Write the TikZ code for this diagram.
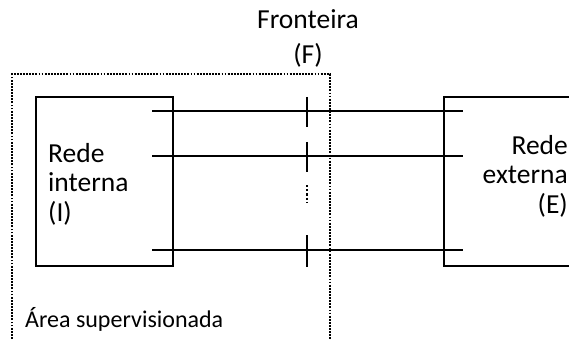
\documentclass[tikz,border=0pt]{standalone}
\usepackage{fontspec}
\setmainfont{Carlito}
\begin{document}
\begin{tikzpicture}[x=1pt,y=-1pt,
  wire/.style={line width=1.8pt},
  boxline/.style={draw,line width=1.8pt,inner sep=0pt},
  dotline/.style={line width=1.5pt,dash pattern=on 1.8pt off 1.3pt},
  tickline/.style={line width=1.9pt},
  bigtext/.style={font=\fontsize{27.5}{29.5}\selectfont,inner sep=0pt},
  smalltext/.style={font=\fontsize{24}{28}\selectfont,inner sep=0pt}]
\clip (0,0) rectangle (569,339);
% supervised area
\draw[dotline] (12,345) -- (12,74) -- (330,74) -- (330,345);
% boxes
\node[boxline,minimum width=137pt,minimum height=169pt,anchor=north west] (I) at (35,96) {};
\node[boxline,minimum width=170pt,minimum height=169pt,anchor=north west] (E) at (443,96) {};
% wire ends
\coordinate (a1) at (152,111); \coordinate (b1) at (463,111);
\coordinate (a2) at (152,156); \coordinate (b2) at (463,156);
\coordinate (a3) at (152,250); \coordinate (b3) at (463,250);
\draw[wire] (a1) -- (b1);
\draw[wire] (a2) -- (b2);
\draw[wire] (a3) -- (b3);
% boundary ticks
\draw[tickline] (307,97) -- (307,127);
\draw[tickline] (307,142) -- (307,172);
\draw[tickline,dash pattern=on 2.2pt off 2pt] (307,185) -- (307,202);
\draw[tickline] (307,235) -- (307,267);
% texts
\node[bigtext,align=left,anchor=north west] (Itext) at (48,143) {Rede\\interna\\(I)};
\node[bigtext,align=right,anchor=north east] (Etext) at (568,135) {Rede\\externa\\(E)};
\node[bigtext,align=center,anchor=north,font=\fontsize{27.5}{35}\selectfont] (F) at (308,9) {Fronteira\\(F)};
\node[smalltext,anchor=base west] (A) at (25,327) {Área supervisionada};
\end{tikzpicture}
\end{document}
